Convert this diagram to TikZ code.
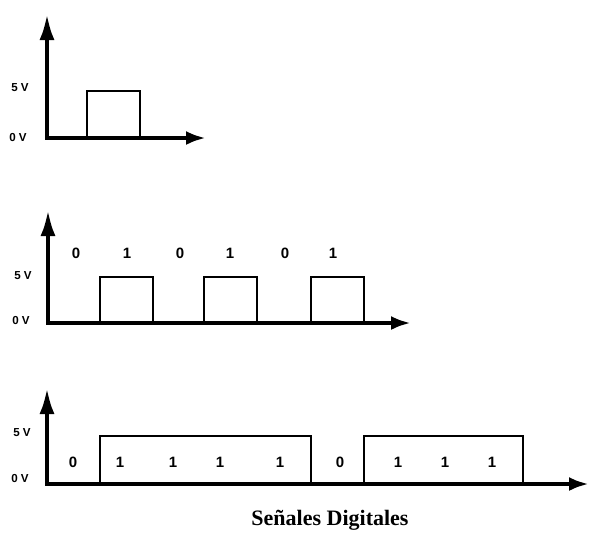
\documentclass[tikz,border=0pt]{standalone}
\usepackage{fontspec}
\setmainfont{Liberation Serif}
\newfontfamily\labelfont{Liberation Sans}
\usetikzlibrary{arrows.meta}

\begin{document}
\begin{tikzpicture}[x=0.5pt,y=-0.5pt,
  axis/.style={line width=2pt,{Latex[length=13pt,width=7.5pt]}-{Latex[length=10pt,width=7pt]}},
  pulse/.style={line width=0.8pt},
  volt/.style={font=\labelfont\bfseries\fontsize{5.8}{7}\selectfont},
  bit/.style={font=\labelfont\bfseries\fontsize{7.5}{9}\selectfont}]
  \useasboundingbox (0,0) rectangle (589,537);
  % three axes: name/corner x/corner y/top of y axis/end of x axis
  \foreach \n/\cx/\cy/\ty/\ex in {a/47/138/14/206, b/48/323/210/411, c/47/484/388/589} {
    \coordinate (o\n) at (\cx,\cy);
    \coordinate (y\n) at (\cx,\ty);
    \coordinate (x\n) at (\ex,\cy);
    \draw[axis] (y\n) -- (o\n) -- (x\n);
  }
  % voltage levels
  \foreach \n/\vx/\hy/\ly in {a/20/88/137, b/23/276/320, c/22/433/478} {
    \node[volt] (h\n) at (\vx,\hy) {5 V};
    \node[volt] (l\n) at (\vx-2,\ly) {0 V};
  }
  % single pulse
  \draw[pulse] (87,138) |- (140,91) -- (140,138);
  % 010101
  \foreach \xa/\xb in {100/153, 204/257, 311/364} {
    \draw[pulse] (\xa,323) |- (\xb,277) -- (\xb,323);
  }
  \foreach \bx/\bv [count=\i] in {76/0, 127/1, 180/0, 230/1, 285/0, 333/1} {
    \node[bit] (p\i) at (\bx,253) {\bv};
  }
  % 011110111
  \foreach \xa/\xb in {100/311, 364/523} {
    \draw[pulse] (\xa,484) |- (\xb,436) -- (\xb,484);
  }
  \foreach \bx/\bv [count=\i] in {73/0, 120/1, 173/1, 220/1, 280/1, 340/0, 398/1, 445/1, 492/1} {
    \node[bit] (q\i) at (\bx,462) {\bv};
  }
  \node[font=\bfseries\fontsize{11}{13}\selectfont] (title) at (330,520) {Señales Digitales};
\end{tikzpicture}
\end{document}
